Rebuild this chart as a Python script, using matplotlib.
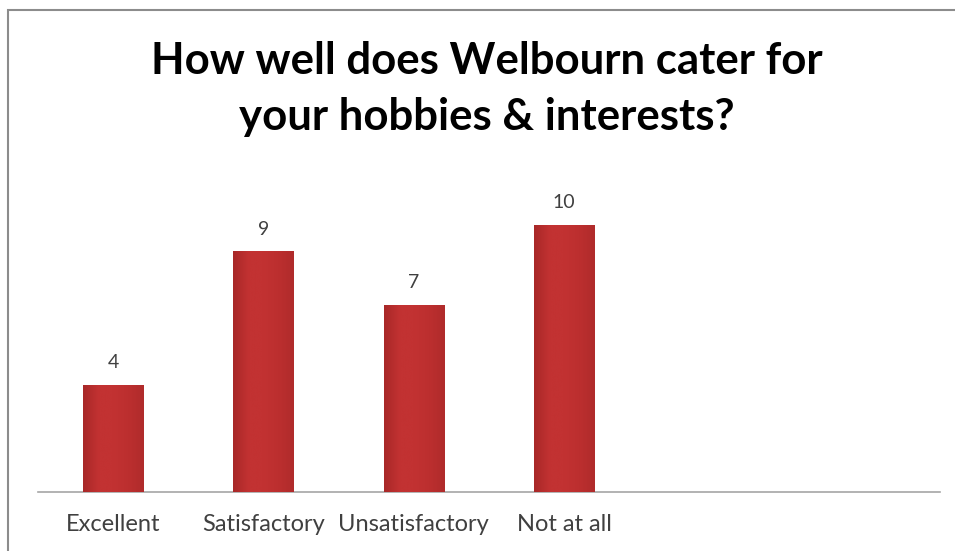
"""Bar chart: How well does Welbourn cater for your hobbies & interests?"""

import matplotlib
matplotlib.use('Agg')
import matplotlib.pyplot as plt
from matplotlib.colors import LinearSegmentedColormap
from matplotlib.patches import Rectangle
import numpy as np

# Data ---------------------------------------------------------------------

categories = ['Excellent', 'Satisfactory', 'Unsatisfactory', 'Not at all']
counts = [4, 9, 7, 10]
title = 'How well does Welbourn cater for\nyour hobbies & interests?'

# Figure -------------------------------------------------------------------

plt.rcParams['font.family'] = ['Lato', 'DejaVu Sans']

fig = plt.figure(figsize=(9.55, 5.51), dpi=100)
fig.patch.set_facecolor('white')

# outer chart frame (gray, thin); right and bottom edges fall outside image
frame = Rectangle((8 / 955, -0.05), 1.0, 1 - 10 / 551 + 0.05,
                  transform=fig.transFigure, fill=False,
                  edgecolor='#8c8c8c', linewidth=1.5)
fig.patches.append(frame)

ax = fig.add_axes([38 / 955, 1 - 492 / 551, 902 / 955, 12 * 26.7 / 551])

x = np.arange(len(categories))
bars = ax.bar(x, counts, width=0.4, color='#be2f2f', zorder=2)

# slight horizontal gradient on each bar (darker left edge)
grad_cmap = LinearSegmentedColormap.from_list(
    'bar', ['#a82828', '#c23232', '#c23232', '#bc2f2f', '#b02b2b'])
grad = np.linspace(0, 1, 64).reshape(1, -1)
for b in bars:
    x0, w, h = b.get_x(), b.get_width(), b.get_height()
    ax.imshow(grad, cmap=grad_cmap, aspect='auto', zorder=3,
              extent=(x0, x0 + w, 0, h), interpolation='bicubic')

for xi, v in zip(x, counts):
    ax.annotate(str(v), (xi, v), xytext=(0, 10), textcoords='offset points',
                ha='center', va='bottom', fontsize=14, color='#404040')

ax.set_xlim(-0.5, 5.5)
ax.set_ylim(0, 12)
ax.set_xticks(x)
ax.set_xticklabels(categories, fontsize=17, color='#404040')
ax.tick_params(axis='x', length=0, pad=16)
ax.set_yticks([])
for side in ('top', 'right', 'left'):
    ax.spines[side].set_visible(False)
ax.spines['bottom'].set_color('#a6a6a6')
ax.spines['bottom'].set_linewidth(1.2)
ax.set_facecolor('none')

fig.text(487 / 955, 1 - 89 / 551, title, ha='center', va='center',
         fontsize=31.5, fontweight='bold', color='black', linespacing=1.5)

fig.savefig('out.png', dpi=100)
